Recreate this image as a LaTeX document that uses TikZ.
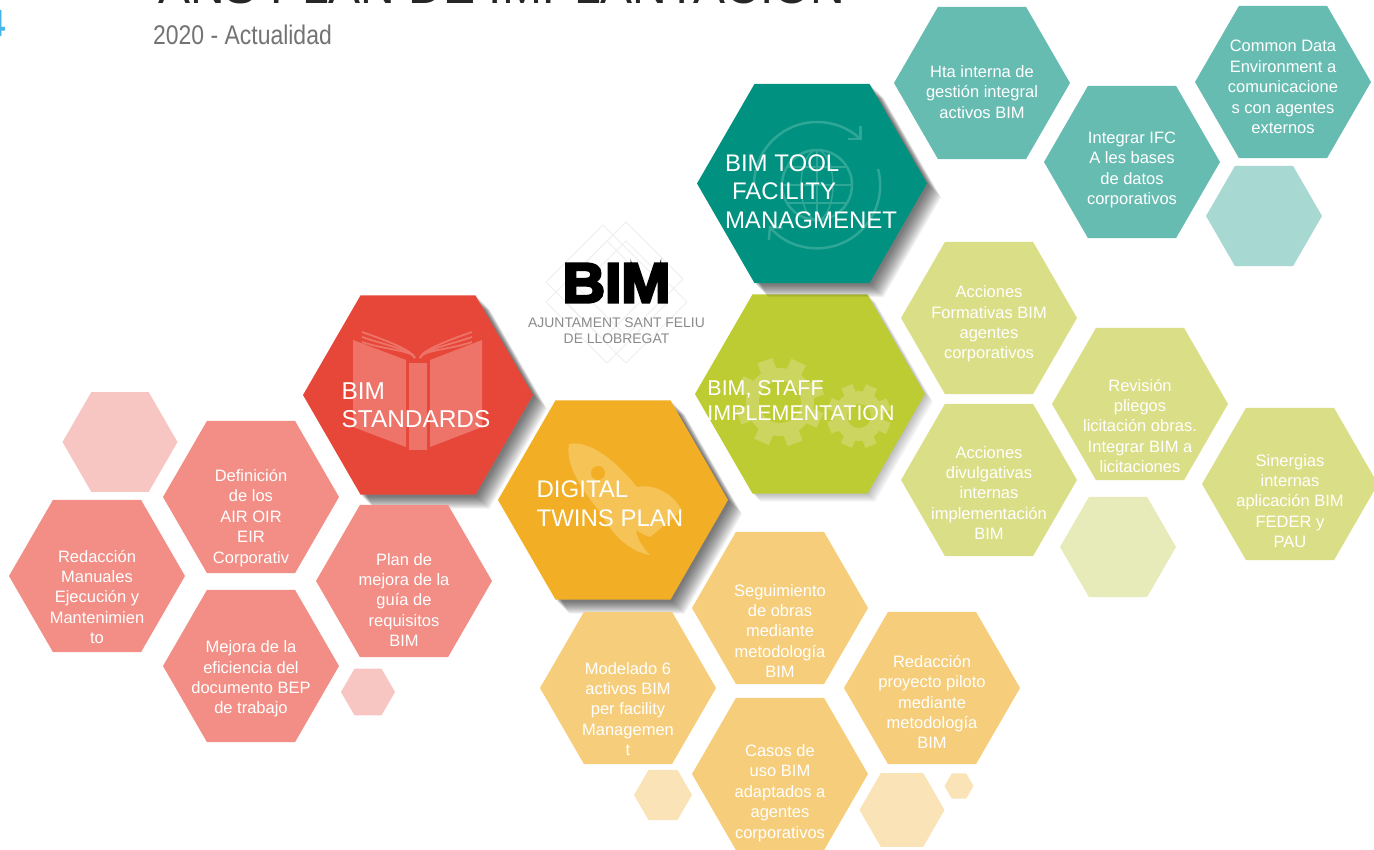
\documentclass[tikz,border=0pt]{standalone}
\usepackage{fontspec}
\setmainfont{Liberation Sans}
\newfontfamily\narrowfont[FakeStretch=0.85]{Liberation Sans}
\newfontfamily\logofont[FakeStretch=1.05,BoldFeatures={FakeBold=5}]{Liberation Sans}
\usepackage{xcolor}
\usepackage{tikz}
\usetikzlibrary{shapes,shapes.geometric,arrows,arrows.meta,positioning,calc,shadows}

\definecolor{tealbig}{HTML}{009180}
\definecolor{tealsoft}{HTML}{67BCB2}
\definecolor{tealpale}{HTML}{A7D8D2}
\definecolor{tealicon}{HTML}{2FA796}
\definecolor{greenbig}{HTML}{BECC33}
\definecolor{greensoft}{HTML}{DADF87}
\definecolor{greenpale}{HTML}{E6EBB9}
\definecolor{greenicon}{HTML}{CBD55F}
\definecolor{redbig}{HTML}{E64738}
\definecolor{redsoft}{HTML}{F28E85}
\definecolor{redpale}{HTML}{F7C6C2}
\definecolor{redicon}{HTML}{EE746A}
\definecolor{orangebig}{HTML}{F2AE24}
\definecolor{orangesoft}{HTML}{F6CE7B}
\definecolor{orangepale}{HTML}{FAE3B6}
\definecolor{orangeicon}{HTML}{F5C356}
\definecolor{citygray}{HTML}{8A8A8A}
\definecolor{diamondgray}{HTML}{EEEEEE}
\definecolor{pageblue}{HTML}{45B5EA}

\begin{document}
\begin{tikzpicture}[
    x=1pt, y=-1pt,
    hexa/.style={regular polygon, regular polygon sides=6, inner sep=-8pt, outer sep=0pt},
    darklayer/.style={drop shadow={shadow xshift=#1, shadow yshift=-#1, opacity=.055, fill=black}},
    lightlayer/.style={drop shadow={shadow xshift=#1, shadow yshift=-#1, opacity=.035, fill=black}},
    bighex/.style={hexa, minimum size=230pt,
        darklayer/.list={2pt,3pt,4pt,5pt,6pt,7pt,8pt,9pt,10pt,11pt,12pt,13pt,14pt}},
    softhex/.style={hexa, minimum size=230pt,
        lightlayer/.list={1pt,2pt,3pt,4pt,5pt,6pt,7pt,8pt}},
    smallhex/.style={hexa, minimum size=176pt},
    hextext/.style={text=white, align=center, inner sep=0pt, font=\fontsize{16.5}{20.4}\selectfont},
    bigtitle/.style={text=white, align=left, inner sep=0pt, font=\fontsize{24}{28.6}\selectfont}
]
    \path[use as bounding box, clip] (0,0) rectangle (1374,850);

    % Heading
    \node[anchor=base west, inner sep=0pt, text=black!85, font=\fontsize{48}{48}\selectfont] (heading) at (158,4) {ANS PLAN DE IMPLANTACIÓN};
    \node[anchor=base west, inner sep=0pt, text=black!55, font=\narrowfont\fontsize{27}{27}\selectfont] (period) at (153,45) {2020 - Actualidad};
    \node[anchor=base east, inner sep=0pt, text=pageblue, font=\bfseries\fontsize{38}{38}\selectfont] (pagenum) at (6,37) {4};

    % Logo
    \foreach \cx/\cy/\r in {626/279/57, 603/282/57, 626/302/61, 607/302/61} {
        \draw[diamondgray, line width=1pt] (\cx-\r,\cy) -- (\cx,\cy-\r) -- (\cx+\r,\cy) -- (\cx,\cy+\r) -- cycle;
    }
    \node[inner sep=0pt, font=\logofont\bfseries\fontsize{56}{56}\selectfont] (bimlogo) at (616.5,283) {BIM};
    \node[below=15pt of bimlogo, inner sep=0pt, align=center, text=citygray, font=\fontsize{13.9}{16}\selectfont] (city) {AJUNTAMENT SANT FELIU\\DE LLOBREGAT};

    % Standards
    \node[bighex, fill=redbig] (standards) at (418,395) {};
    \fill[redicon] (353,340) -- (406,360) -- (406,447) -- (353,427) -- cycle;
    \fill[redicon] (409,363) rectangle (427,450);
    \fill[redicon] (430,360) -- (482,340) -- (482,427) -- (430,447) -- cycle;
    \foreach \dy in {0,5,10} {
        \draw[redicon, line width=1.8pt] (362,337+\dy-5) .. controls (385,345+\dy-5) and (412,350) .. (415,358);
        \draw[redicon, line width=1.8pt] (472,337+\dy-5) .. controls (449,345+\dy-5) and (422,350) .. (420,358);
    }
    \node[bigtitle, font=\fontsize{24.4}{28}\selectfont, xshift=-2pt, yshift=-10pt] (standardstitle) at (standards) {BIM\\STANDARDS};

    % Staff
    \node[softhex, fill=greenbig] (staff) at (810,394) {};
    \foreach \a in {0,45,...,315} {
        \fill[greenicon, rotate around={\a+20:(780,402)}] (772,358) rectangle (788,375);
    }
    \fill[greenicon] (780,402) circle (34pt);
    \fill[greenbig] (780,402) circle (21pt);
    \foreach \a in {0,45,...,315} {
        \fill[greenicon, rotate around={\a+22:(859,416)}] (853,384) rectangle (865,395);
    }
    \fill[greenicon] (859,416) circle (25pt);
    \fill[greenbig] (859,416) circle (12pt);
    \node[bigtitle, font=\fontsize{21.4}{25}\selectfont, xshift=-9pt, yshift=-6.5pt] (stafftitle) at (staff) {BIM, STAFF\\IMPLEMENTATION};

    % Facility
    \node[bighex, fill=tealbig] (tool) at (812,183.5) {};
    \coordinate (globe) at (817,185);
    \draw[tealicon, line width=2.5pt] (globe) circle (35pt);
    \draw[tealicon, line width=1.5pt] (globe) ellipse (16pt and 35pt);
    \draw[tealicon, line width=1.5pt] (782,185) -- (852,185) (817,150) -- (817,220) (787,167) -- (847,167) (787,203) -- (847,203);
    \draw[tealicon, line width=2.5pt, -{Straight Barb[length=9pt,width=18pt]}] ($(globe)+(-63,0)$) arc[start angle=180, end angle=45, radius=63pt];
    \draw[tealicon, line width=2.5pt, -{Straight Barb[length=9pt,width=18pt]}] ($(globe)+(61,-16)$) arc[start angle=15, end angle=-140, radius=63pt];
    \node[bigtitle, xshift=-1pt, yshift=-8pt] (tooltitle) at (tool) {BIM TOOL\\\hspace*{7pt}FACILITY\\MANAGMENET};

    % Digital twins
    \node[bighex, fill=orangebig] (twins) at (613,500) {};
    \fill[orangeicon] (569,444) .. controls (590,440) and (615,460) .. (637,487)
        .. controls (655,483) and (675,495) .. (682,511) -- (650,537)
        .. controls (643,535) and (636,530) .. (636,530)
        .. controls (637,540) and (645,550) .. (650,555)
        .. controls (630,552) and (612,535) .. (600,512)
        .. controls (582,490) and (565,465) .. (569,444) -- cycle;
    \fill[orangebig] (598,473) circle (7pt);
    \node[bigtitle, xshift=-3pt, yshift=-3.5pt] (twinstitle) at (twins) {DIGITAL\\TWINS PLAN};

    % Facility actions
    \node[smallhex, fill=tealsoft, label={[hextext, yshift=-9pt]center:Hta interna de\\gestión integral\\activos BIM}] (hta) at (982,83) {};
    \node[smallhex, fill=tealsoft, label={[hextext, yshift=-5pt]center:Common Data\\Environment a\\comunicacione\\s con agentes\\externos}] (cde) at (1283,82) {};
    \node[smallhex, fill=tealsoft, label={[hextext, yshift=-8pt]center:Integrar IFC\\A les bases\\de datos\\corporativos}] (ifc) at (1132,162) {};
    \node[hexa, minimum size=116pt, fill=tealpale] (tealblank) at (1264,216) {};

    % Staff actions
    \node[smallhex, fill=greensoft, label={[hextext, yshift=-6pt]center:Acciones\\Formativas BIM\\agentes\\corporativos}] (formativas) at (989,318) {};
    \node[smallhex, fill=greensoft, label={[hextext, yshift=-13pt]center:Acciones\\divulgativas\\internas\\implementación\\BIM}] (divulgativas) at (989,480) {};
    \node[smallhex, fill=greensoft, label={[hextext, yshift=-22pt]center:Revisión\\pliegos\\licitación obras.\\Integrar BIM a\\licitaciones}] (pliegos) at (1140,404) {};
    \node[smallhex, fill=greensoft, label={[hextext, yshift=-17pt]center:Sinergias\\internas\\aplicación BIM\\FEDER y\\PAU}] (sinergias) at (1290,484) {};
    \node[hexa, minimum size=116pt, fill=greenpale] (greenblank) at (1118,547) {};

    % Twins actions
    \node[smallhex, fill=orangesoft, label={[hextext, yshift=-23pt]center:Seguimiento\\de obras\\mediante\\metodología\\BIM}] (seguimiento) at (780,608) {};
    \node[smallhex, fill=orangesoft, label={[hextext, yshift=-14pt]center:Redacción\\proyecto piloto\\mediante\\metodología\\BIM}] (piloto) at (932,688) {};
    \node[smallhex, fill=orangesoft, label={[hextext, yshift=-21pt]center:Modelado 6\\activos BIM\\per facility\\Managemen\\t}] (modelado) at (628,688) {};
    \node[smallhex, fill=orangesoft, label={[hextext, yshift=-19pt]center:Casos de\\uso BIM\\adaptados a\\agentes\\corporativos}] (casos) at (780,774) {};
    \node[hexa, minimum size=58pt, fill=orangepale] (orangeblanka) at (663,795) {};
    \node[hexa, minimum size=85pt, fill=orangepale] (orangeblankb) at (902,810) {};
    \node[hexa, minimum size=29pt, fill=orangepale] (orangeblankc) at (959,786) {};

    % Standards actions
    \node[smallhex, fill=redsoft, label={[hextext, yshift=-21pt]center:Definición\\de los\\AIR OIR\\EIR\\Corporativ}] (definicion) at (251,497) {};
    \node[smallhex, fill=redsoft, label={[hextext, yshift=-19pt]center:Plan de\\mejora de la\\guía de\\requisitos\\BIM}] (guia) at (404,581) {};
    \node[smallhex, fill=redsoft, label={[hextext, yshift=-21pt]center:Redacción\\Manuales\\Ejecución y\\Mantenimien\\to}] (manuales) at (97,576) {};
    \node[smallhex, fill=redsoft, label={[hextext, yshift=-13pt]center:Mejora de la\\eficiencia del\\documento BEP\\de trabajo}] (bep) at (251,666) {};
    \node[hexa, minimum size=115pt, fill=redpale] (redblanka) at (120,442) {};
    \node[hexa, minimum size=54pt, fill=redpale] (redblankb) at (368,692) {};

\end{tikzpicture}
\end{document}
